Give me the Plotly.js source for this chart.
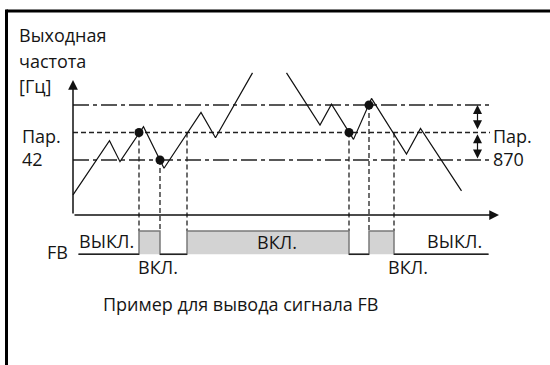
<!DOCTYPE html>
<html>
<head>
<meta charset="utf-8">
<script src="https://cdn.plot.ly/plotly-3.0.1.min.js"></script>
<style>
html, body { margin: 0; padding: 0; background: #fff; }
#plot { width: 550px; height: 365px; }
</style>
</head>
<body>
<div id="plot"></div>
<script>
// output frequency (Hz) over time
var freqT = [0, 7.3, 9.4, 14.1, 18.2, 25.6, 28.5, 35.9, null, 42.7, 49.4, 51.7, 56.1, 59.7, 66.7, 69.5, 77.7];
var freqF = [7.3, 27.0, 19.4, 32.1, 17.0, 37.3, 28.1, 51.7, null, 51.7, 32.7, 40.3, 27.5, 42.4, 22.2, 31.5, 8.8];

// Pr.42 level and the Pr.870 band around it
var par42 = 30;
var par870 = 10;
var levels = [par42 + par870, par42, par42 - par870];
var levelDash = ["16px,4px,4px,4px", "5px,3px", "16px,4px,4px,4px"];

// where FB switches
var switchT = [13.2, 17.4, 22.8, 55.2, 59.2, 64.2];
var switchF = [30, 20, 30, 30, 40, 30];
var dotT = [13.2, 17.4, 55.2, 59.2];
var dotF = [30, 20, 30, 40];

// FB output, 0 = OFF, 1 = ON
var fbT = [1.1, 13.2, 17.4, 22.8, 55.2, 59.2, 64.2, 83.1];
var fbState = [0, 1, 0, 1, 0, 1, 0, 0];

var levelEnd = 83.4;
var timeAxisEnd = 85.2;
var freqAxisTop = 49.1;
var bandArrowT = 80.9;

var W = 550, H = 365;
var xRange = [-14.6, 95.4];
var yRange = [-54.545, 78.182];
var y2Range = [-4.751, 10.914];

// FB "ON" level expressed in frequency units (dashed drop lines end there)
var fbTopPx = H * (y2Range[1] - 1) / (y2Range[1] - y2Range[0]);
var fbTopF = yRange[1] - fbTopPx / H * (yRange[1] - yRange[0]);

var traces = [];

levels.forEach(function (lv, i) {
    traces.push({
        x: [0, levelEnd], y: [lv, lv], mode: "lines", hoverinfo: "skip",
        line: {color: "#222", width: 1.3, dash: levelDash[i]}
    });
});

// drop lines
var dx = [], dy = [];
switchT.forEach(function (t, i) {
    dx.push(t, t, null);
    dy.push(switchF[i], fbTopF, null);
});
traces.push({
    x: dx, y: dy, mode: "lines", hoverinfo: "skip",
    line: {color: "#222", width: 1.3, dash: "5px,3px"}
});

// FB signal
traces.push({
    x: fbT, y: fbState, yaxis: "y2", mode: "lines", hoverinfo: "skip",
    line: {shape: "hv", color: "#7a7a7a", width: 1.5},
    fill: "tozeroy", fillcolor: "#d3d3d3"
});
var lowX = [], lowY = [];
for (var i = 0; i < fbT.length - 1; i++) {
    if (fbState[i] === 0) {
        lowX.push(fbT[i], fbT[i + 1], null);
        lowY.push(0, 0, null);
    }
}
traces.push({
    x: lowX, y: lowY, yaxis: "y2", mode: "lines", hoverinfo: "skip",
    line: {color: "#222", width: 1.5}
});

// frequency curve
traces.push({
    x: freqT, y: freqF, mode: "lines", hoverinfo: "skip",
    line: {color: "#111", width: 1.2}
});
traces.push({
    x: dotT, y: dotF, mode: "markers", hoverinfo: "skip",
    marker: {color: "#111", size: 9}
});

var txtFont = {family: "Open Sans", size: 18, color: "#151515"};
function label(text, px, py, anchor) {
    return {
        text: text, showarrow: false, xref: "paper", yref: "paper",
        x: px / W, y: 1 - py / H, xanchor: anchor || "left", yanchor: "middle",
        font: txtFont, borderpad: 0
    };
}

var labels = [
    ["Выходная", 18, 35.5], ["частота", 18, 60.5], ["[Гц]", 18, 86.5],
    ["Пар.", 21, 135.5], ["42", 21, 158.5],
    ["Пар.", 492, 135.5], ["870", 492, 158.5],
    ["FB", 46, 252], ["ВЫКЛ.", 78, 241], ["ВКЛ.", 137, 266.5],
    ["ВКЛ.", 256, 241.5], ["ВЫКЛ.", 426, 241], ["ВКЛ.", 387, 267]
];
var annotations = labels.map(function (l) { return label(l[0], l[1], l[2]); });
annotations.push(label("Пример для вывода сигнала FB", 240, 304, "center"));

function arrow(x0, y0, x1, y1, w, size, side) {
    return {
        x: x1, y: y1, ax: x0, ay: y0, xref: "x", yref: "y", axref: "x", ayref: "y",
        showarrow: true, arrowhead: 2, arrowsize: size, arrowwidth: w,
        arrowcolor: "#111", arrowside: side || "end", text: "",
        standoff: 0, startstandoff: 0
    };
}
annotations.push(arrow(0, 0, 0, freqAxisTop, 1.5, 1.3));
annotations.push(arrow(0, 0, timeAxisEnd, 0, 1.5, 1.3));
annotations.push(arrow(bandArrowT, levels[1] + 0.6, bandArrowT, levels[0], 1.2, 1.5, "end+start"));
annotations.push(arrow(bandArrowT, levels[2], bandArrowT, levels[1] - 0.6, 1.2, 1.5, "end+start"));

var layout = {
    width: W, height: H,
    margin: {l: 0, r: 0, t: 0, b: 0},
    paper_bgcolor: "#fff", plot_bgcolor: "#fff",
    showlegend: false,
    xaxis: {range: xRange, visible: false, fixedrange: true},
    yaxis: {range: yRange, visible: false, fixedrange: true},
    yaxis2: {range: y2Range, visible: false, overlaying: "y", fixedrange: true},
    annotations: annotations,
    shapes: [
        {type: "line", xref: "paper", yref: "paper", x0: 6.5 / W, x1: 1, y0: 1 - 11 / H, y1: 1 - 11 / H,
         line: {color: "#000", width: 3}},
        {type: "line", xref: "paper", yref: "paper", x0: 6.5 / W, x1: 6.5 / W, y0: 0, y1: 1 - 9.5 / H,
         line: {color: "#000", width: 3}}
    ]
};

Plotly.newPlot("plot", traces, layout, {displayModeBar: false, staticPlot: true});
</script>
</body>
</html>
